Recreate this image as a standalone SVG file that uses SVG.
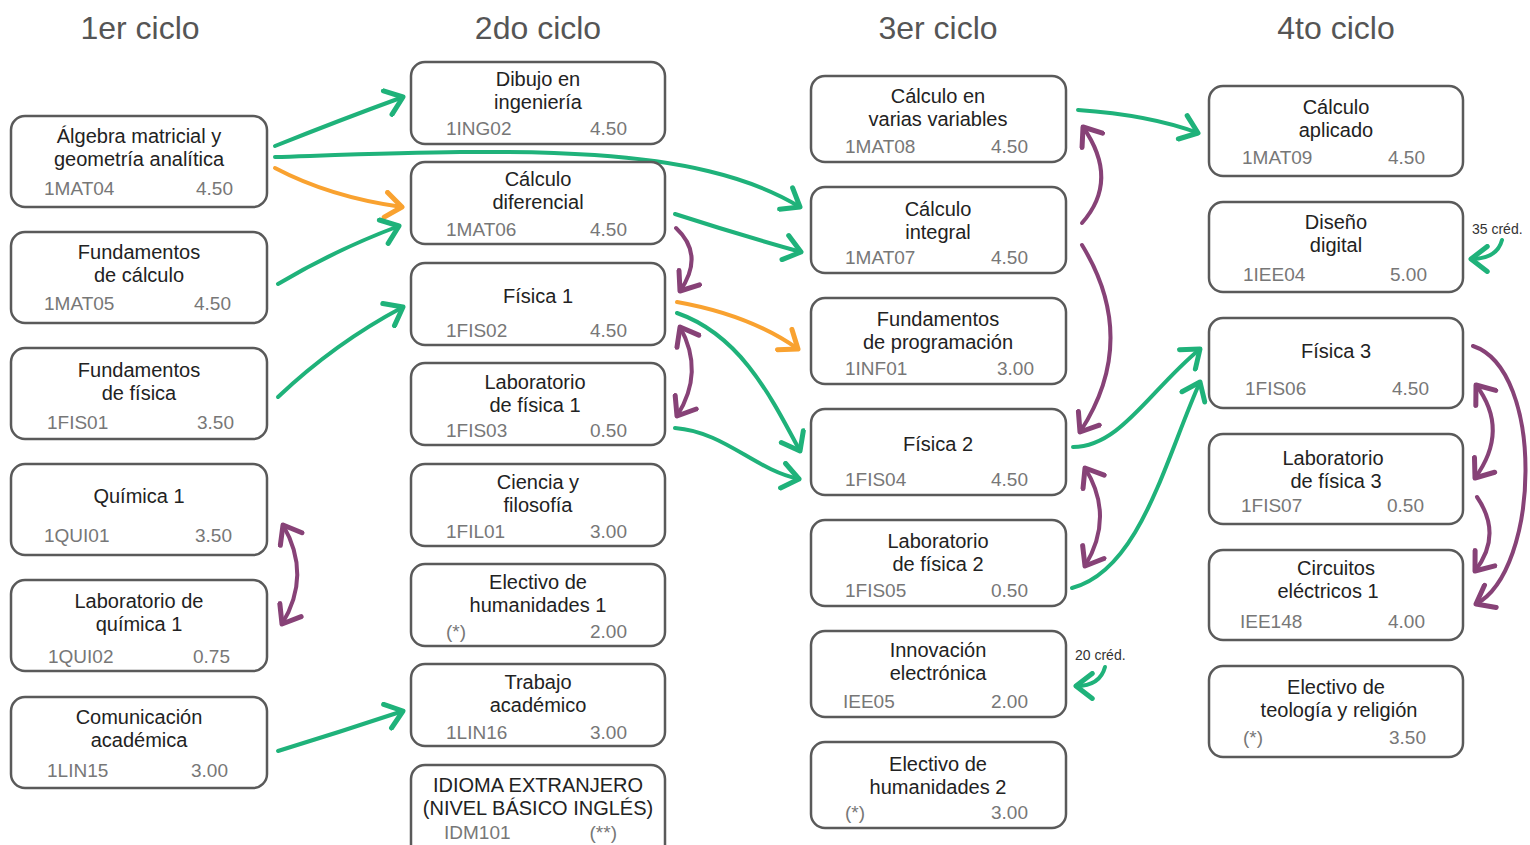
<svg xmlns="http://www.w3.org/2000/svg" width="1530" height="845" viewBox="0 0 1530 845">
<style>
.box{fill:#fff;stroke:#5a5a5a;stroke-width:2.5}
.t{font-family:"Liberation Sans",Arial,sans-serif;font-size:20px;fill:#222;text-anchor:middle}
.c{font-family:"Liberation Sans",Arial,sans-serif;font-size:19px;fill:#777}
.r{text-anchor:end}
.h{font-family:"Liberation Sans",Arial,sans-serif;font-size:32px;fill:#555;text-anchor:middle}
.n{font-family:"Liberation Sans",Arial,sans-serif;font-size:14px;fill:#333}
.g{fill:none;stroke:#1fb27a;stroke-width:4;stroke-linecap:round}
.o{fill:none;stroke:#f9a230;stroke-width:4;stroke-linecap:round}
.p{fill:none;stroke:#874277;stroke-width:4;stroke-linecap:round}
</style>
<defs>
<marker id="ag" markerUnits="userSpaceOnUse" markerWidth="30" markerHeight="30" viewBox="-16 -12 20 24" refX="0" refY="0" orient="auto-start-reverse"><path d="M-13,-10 L0,0 L-13,10" fill="none" stroke="#1fb27a" stroke-width="4" stroke-linecap="round" stroke-linejoin="round"/></marker>
<marker id="ao" markerUnits="userSpaceOnUse" markerWidth="30" markerHeight="30" viewBox="-16 -12 20 24" refX="0" refY="0" orient="auto-start-reverse"><path d="M-13,-10 L0,0 L-13,10" fill="none" stroke="#f9a230" stroke-width="4" stroke-linecap="round" stroke-linejoin="round"/></marker>
<marker id="ap" markerUnits="userSpaceOnUse" markerWidth="30" markerHeight="30" viewBox="-16 -12 20 24" refX="0" refY="0" orient="auto-start-reverse"><path d="M-13,-10 L0,0 L-13,10" fill="none" stroke="#874277" stroke-width="4" stroke-linecap="round" stroke-linejoin="round"/></marker>
</defs>
<rect width="1530" height="845" fill="#fff"/>
<g id="headers">
<text class="h" x="140" y="39">1er ciclo</text>
<text class="h" x="538" y="39">2do ciclo</text>
<text class="h" x="938" y="39">3er ciclo</text>
<text class="h" x="1336" y="39">4to ciclo</text>
</g>
<g id="connectors">
<path class="g" d="M275,146 Q340,120 403,97" marker-end="url(#ag)"/>
<path class="g" d="M275,157 C500,150 690,140 800,207" marker-end="url(#ag)"/>
<path class="o" d="M275,168 Q330,197 402,207" marker-end="url(#ao)"/>
<path class="g" d="M278,284 Q335,250 399,226" marker-end="url(#ag)"/>
<path class="g" d="M278,397 Q335,343 403,307" marker-end="url(#ag)"/>
<path class="g" d="M278,751 Q340,732 403,711" marker-end="url(#ag)"/>
<path class="g" d="M675,214 Q740,235 801,252" marker-end="url(#ag)"/>
<path class="p" d="M676,228 Q705,255 680,291" marker-end="url(#ap)"/>
<path class="o" d="M677,302 Q750,315 798,349" marker-end="url(#ao)"/>
<path class="g" d="M677,313 C740,335 770,395 800,451" marker-end="url(#ag)"/>
<path class="p" d="M680,327 Q705,372 677,416" marker-start="url(#ap)" marker-end="url(#ap)"/>
<path class="g" d="M675,428 C725,432 755,470 799,479" marker-end="url(#ag)"/>
<path class="g" d="M1078,110 Q1150,115 1198,133" marker-end="url(#ag)"/>
<path class="p" d="M1082,223 Q1120,180 1083,127" marker-end="url(#ap)"/>
<path class="p" d="M1082,245 Q1140,340 1080,432" marker-end="url(#ap)"/>
<path class="g" d="M1073,447 C1120,447 1150,390 1200,349" marker-end="url(#ag)"/>
<path class="p" d="M1085,468 Q1115,516 1085,566" marker-start="url(#ap)" marker-end="url(#ap)"/>
<path class="g" d="M1072,588 C1140,570 1165,460 1200,382" marker-end="url(#ag)"/>
<path class="g" d="M1105,667 Q1100,686 1076,686" marker-end="url(#ag)"/>
<path class="g" d="M1502,240 Q1497,259 1471,259" marker-end="url(#ag)"/>
<path class="p" d="M1476,385 Q1510,430 1475,478" marker-start="url(#ap)" marker-end="url(#ap)"/>
<path class="p" d="M1477,497 Q1503,535 1475,571" marker-end="url(#ap)"/>
<path class="p" d="M1473,346 C1545,370 1540,570 1476,604" marker-end="url(#ap)"/>
<path class="p" d="M283,525 Q312,575 282,624" marker-start="url(#ap)" marker-end="url(#ap)"/>
</g>
<g id="notes">
<text class="n" x="1075" y="660">20 créd.</text>
<text class="n" x="1472" y="234">35 créd.</text>
</g>
<!-- Column 1 -->
<g id="n1MAT04"><rect class="box" x="11" y="116" width="256" height="91" rx="14"/><text class="t" x="139" y="143">Álgebra matricial y</text><text class="t" x="139" y="166">geometría analítica</text><text class="c" x="44" y="195">1MAT04</text><text class="c r" x="233" y="195">4.50</text></g>
<g id="n1MAT05"><rect class="box" x="11" y="232" width="256" height="91" rx="14"/><text class="t" x="139" y="259">Fundamentos</text><text class="t" x="139" y="282">de cálculo</text><text class="c" x="44" y="310">1MAT05</text><text class="c r" x="231" y="310">4.50</text></g>
<g id="n1FIS01"><rect class="box" x="11" y="348" width="256" height="91" rx="14"/><text class="t" x="139" y="377">Fundamentos</text><text class="t" x="139" y="400">de física</text><text class="c" x="47" y="429">1FIS01</text><text class="c r" x="234" y="429">3.50</text></g>
<g id="n1QUI01"><rect class="box" x="11" y="464" width="256" height="91" rx="14"/><text class="t" x="139" y="503">Química 1</text><text class="c" x="44" y="542">1QUI01</text><text class="c r" x="232" y="542">3.50</text></g>
<g id="n1QUI02"><rect class="box" x="11" y="580" width="256" height="91" rx="14"/><text class="t" x="139" y="608">Laboratorio de</text><text class="t" x="139" y="631">química 1</text><text class="c" x="48" y="663">1QUI02</text><text class="c r" x="230" y="663">0.75</text></g>
<g id="n1LIN15"><rect class="box" x="11" y="697" width="256" height="91" rx="14"/><text class="t" x="139" y="724">Comunicación</text><text class="t" x="139" y="747">académica</text><text class="c" x="47" y="777">1LIN15</text><text class="c r" x="228" y="777">3.00</text></g>
<!-- Column 2 -->
<g id="n1ING02"><rect class="box" x="411" y="62" width="254" height="82" rx="14"/><text class="t" x="538" y="86">Dibujo en</text><text class="t" x="538" y="109">ingeniería</text><text class="c" x="446" y="135">1ING02</text><text class="c r" x="627" y="135">4.50</text></g>
<g id="n1MAT06"><rect class="box" x="411" y="162" width="254" height="82" rx="14"/><text class="t" x="538" y="186">Cálculo</text><text class="t" x="538" y="209">diferencial</text><text class="c" x="446" y="236">1MAT06</text><text class="c r" x="627" y="236">4.50</text></g>
<g id="n1FIS02"><rect class="box" x="411" y="263" width="254" height="82" rx="14"/><text class="t" x="538" y="303">Física 1</text><text class="c" x="446" y="337">1FIS02</text><text class="c r" x="627" y="337">4.50</text></g>
<g id="n1FIS03"><rect class="box" x="411" y="363" width="254" height="82" rx="14"/><text class="t" x="535" y="389">Laboratorio</text><text class="t" x="535" y="412">de física 1</text><text class="c" x="446" y="437">1FIS03</text><text class="c r" x="627" y="437">0.50</text></g>
<g id="n1FIL01"><rect class="box" x="411" y="464" width="254" height="82" rx="14"/><text class="t" x="538" y="489">Ciencia y</text><text class="t" x="538" y="512">filosofía</text><text class="c" x="446" y="538">1FIL01</text><text class="c r" x="627" y="538">3.00</text></g>
<g id="nEH1"><rect class="box" x="411" y="564" width="254" height="82" rx="14"/><text class="t" x="538" y="589">Electivo de</text><text class="t" x="538" y="612">humanidades 1</text><text class="c" x="446" y="638">(*)</text><text class="c r" x="627" y="638">2.00</text></g>
<g id="n1LIN16"><rect class="box" x="411" y="664" width="254" height="82" rx="14"/><text class="t" x="538" y="689">Trabajo</text><text class="t" x="538" y="712">académico</text><text class="c" x="446" y="739">1LIN16</text><text class="c r" x="627" y="739">3.00</text></g>
<g id="nIDM101"><rect class="box" x="411" y="765" width="254" height="100" rx="14"/><text class="t" x="538" y="792">IDIOMA EXTRANJERO</text><text class="t" x="538" y="815">(NIVEL BÁSICO INGLÉS)</text><text class="c" x="444" y="839">IDM101</text><text class="c r" x="617" y="839">(**)</text></g>
<!-- Column 3 -->
<g id="n1MAT08"><rect class="box" x="811" y="76" width="255" height="86" rx="14"/><text class="t" x="938" y="103">Cálculo en</text><text class="t" x="938" y="126">varias variables</text><text class="c" x="845" y="153">1MAT08</text><text class="c r" x="1028" y="153">4.50</text></g>
<g id="n1MAT07"><rect class="box" x="811" y="187" width="255" height="86" rx="14"/><text class="t" x="938" y="216">Cálculo</text><text class="t" x="938" y="239">integral</text><text class="c" x="845" y="264">1MAT07</text><text class="c r" x="1028" y="264">4.50</text></g>
<g id="n1INF01"><rect class="box" x="811" y="298" width="255" height="86" rx="14"/><text class="t" x="938" y="326">Fundamentos</text><text class="t" x="938" y="349">de programación</text><text class="c" x="845" y="375">1INF01</text><text class="c r" x="1034" y="375">3.00</text></g>
<g id="n1FIS04"><rect class="box" x="811" y="409" width="255" height="86" rx="14"/><text class="t" x="938" y="451">Física 2</text><text class="c" x="845" y="486">1FIS04</text><text class="c r" x="1028" y="486">4.50</text></g>
<g id="n1FIS05"><rect class="box" x="811" y="520" width="255" height="86" rx="14"/><text class="t" x="938" y="548">Laboratorio</text><text class="t" x="938" y="571">de física 2</text><text class="c" x="845" y="597">1FIS05</text><text class="c r" x="1028" y="597">0.50</text></g>
<g id="nIEE05"><rect class="box" x="811" y="631" width="255" height="86" rx="14"/><text class="t" x="938" y="657">Innovación</text><text class="t" x="938" y="680">electrónica</text><text class="c" x="843" y="708">IEE05</text><text class="c r" x="1028" y="708">2.00</text></g>
<g id="nEH2"><rect class="box" x="811" y="742" width="255" height="86" rx="14"/><text class="t" x="938" y="771">Electivo de</text><text class="t" x="938" y="794">humanidades 2</text><text class="c" x="845" y="819">(*)</text><text class="c r" x="1028" y="819">3.00</text></g>
<!-- Column 4 -->
<g id="n1MAT09"><rect class="box" x="1209" y="86" width="254" height="90" rx="14"/><text class="t" x="1336" y="114">Cálculo</text><text class="t" x="1336" y="137">aplicado</text><text class="c" x="1242" y="164">1MAT09</text><text class="c r" x="1425" y="164">4.50</text></g>
<g id="n1IEE04"><rect class="box" x="1209" y="202" width="254" height="90" rx="14"/><text class="t" x="1336" y="229">Diseño</text><text class="t" x="1336" y="252">digital</text><text class="c" x="1243" y="281">1IEE04</text><text class="c r" x="1427" y="281">5.00</text></g>
<g id="n1FIS06"><rect class="box" x="1209" y="318" width="254" height="90" rx="14"/><text class="t" x="1336" y="358">Física 3</text><text class="c" x="1245" y="395">1FIS06</text><text class="c r" x="1429" y="395">4.50</text></g>
<g id="n1FIS07"><rect class="box" x="1209" y="434" width="254" height="90" rx="14"/><text class="t" x="1333" y="465">Laboratorio</text><text class="t" x="1336" y="488">de física 3</text><text class="c" x="1241" y="512">1FIS07</text><text class="c r" x="1424" y="512">0.50</text></g>
<g id="nIEE148"><rect class="box" x="1209" y="550" width="254" height="90" rx="14"/><text class="t" x="1336" y="575">Circuitos</text><text class="t" x="1328" y="598">eléctricos 1</text><text class="c" x="1240" y="628">IEE148</text><text class="c r" x="1425" y="628">4.00</text></g>
<g id="nETR"><rect class="box" x="1209" y="666" width="254" height="91" rx="14"/><text class="t" x="1336" y="694">Electivo de</text><text class="t" x="1339" y="717">teología y religión</text><text class="c" x="1243" y="744">(*)</text><text class="c r" x="1426" y="744">3.50</text></g>
</svg>
